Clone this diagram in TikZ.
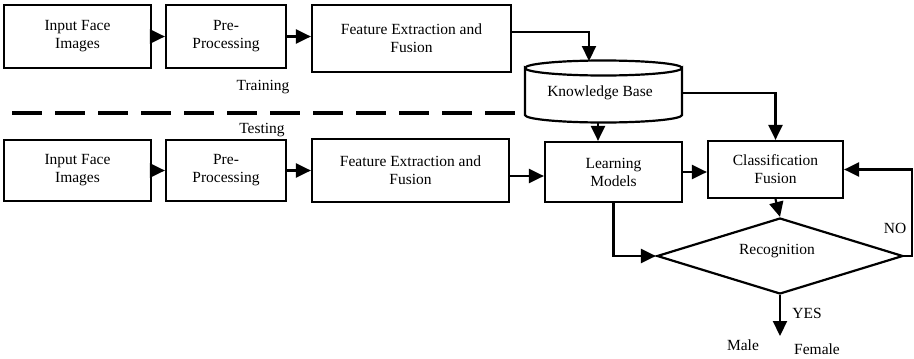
\documentclass[tikz,border=0pt]{standalone}
\usepackage{fontspec}
\setmainfont{Liberation Serif}
\usetikzlibrary{arrows.meta,shapes.geometric}
\begin{document}
\begin{tikzpicture}[x=1pt,y=-1pt,
  every node/.style={font=\fontsize{15.5}{18}\selectfont},
  box/.style={draw,line width=2.2pt,align=center,inner sep=0pt},
  conn/.style={line width=2.2pt,-{Triangle[length=15pt,width=14pt]}},
  lbl/.style={inner sep=0pt}]
\useasboundingbox (0,0) rectangle (914,359);
% top row
\node[box,minimum width=147,minimum height=63] (in1) at (77.5,36.5) {Input Face\\Images};
\node[box,minimum width=120,minimum height=63] (pre1) at (226,36.5) {Pre-\\Processing};
\node[box,minimum width=199,minimum height=67] (fe1) at (411.5,38.5) {Feature Extraction and\\Fusion};
% knowledge base cylinder
\draw[line width=2.2pt,fill=white] (525,68) arc[start angle=180,end angle=0,x radius=78.5,y radius=7.5]
  -- (682,115) arc[start angle=0,end angle=180,x radius=78.5,y radius=7.5] -- cycle;
\draw[line width=2.2pt] (525,68) arc[start angle=180,end angle=360,x radius=78.5,y radius=7.5];
\node[lbl] (kb) at (600,93) {Knowledge Base};
\coordinate (kbtop) at (589,61);
\coordinate (kbright) at (682,93);
\coordinate (kbbot) at (598,122);
% dashed separator
\coordinate (dl) at (12,113);
\coordinate (dr) at (524,113);
\draw[line width=4pt,dash pattern=on 30pt off 13pt] (dl) -- (dr);
\node[lbl] (train) at (263,87) {Training};
\node[lbl] (test) at (262,130) {Testing};
% bottom row
\node[box,minimum width=147,minimum height=61] (in2) at (77.5,170.5) {Input Face\\Images};
\node[box,minimum width=120,minimum height=61] (pre2) at (226,170.5) {Pre-\\Processing};
\node[box,minimum width=197,minimum height=63] (fe2) at (410.5,170.5) {Feature Extraction and\\Fusion};
\node[box,minimum width=137,minimum height=60] (lm) at (613.5,172) {Learning\\Models};
\node[box,minimum width=135,minimum height=57] (cf) at (775.5,169.5) {Classification\\Fusion};
\node[draw,diamond,line width=2.2pt,minimum width=246,minimum height=76,inner sep=0pt,aspect=3.2] (rec) at (780,256) {};
\node[lbl] (rectxt) at (777,251) {Recognition};
\node[lbl] (no) at (895,228) {NO};
\node[lbl] (yes) at (807,313) {YES};
\node[lbl] (male) at (743,345) {Male};
\node[lbl] (female) at (817,349) {Female};
\coordinate (yesend) at (780,336);
% connectors top
\draw[conn] (in1.east) -- (pre1.west);
\draw[conn] (pre1.east) -- (fe1.west |- pre1.east);
\draw[conn] (fe1.east |- 0,32) -| (kbtop);
\draw[conn] (kbright) -| (cf.north);
\draw[conn] (kbbot) -- (kbbot |- lm.north);
% connectors bottom
\draw[conn] (in2.east) -- (pre2.west);
\draw[conn] (pre2.east) -- (fe2.west |- pre2.east);
\draw[conn] (fe2.east |- 0,176) -- (lm.west |- 0,176);
\draw[conn] (lm.east) -- (cf.west |- lm.east);
\draw[conn] (cf.south) -- (rec.north);
\draw[conn] (lm.south) |- (rec.west);
\draw[conn] (rec.east) -- (912,256) |- (cf.east);
\draw[conn] (rec.south) -- (yesend);
\end{tikzpicture}
\end{document}
